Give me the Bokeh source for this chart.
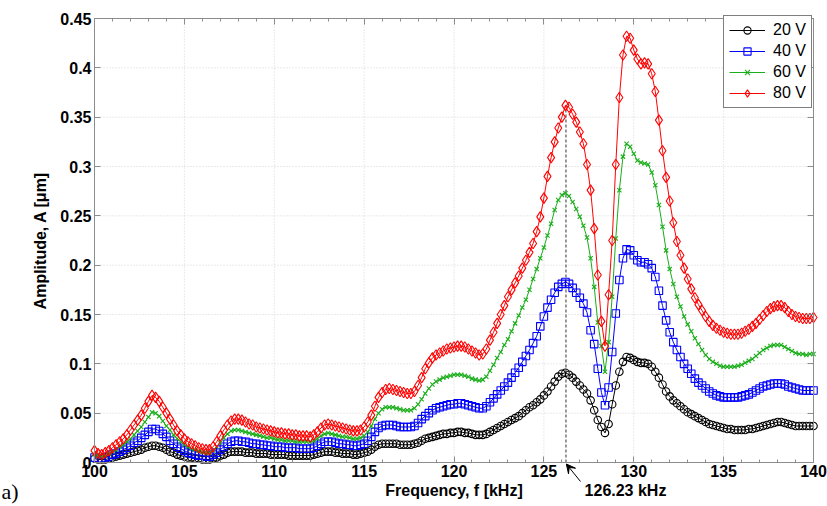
import numpy as np
from bokeh.plotting import figure
from bokeh.models import (FixedTicker, LinearAxis, Legend, LegendItem, Label,
                          Arrow, VeeHead, CustomJSTickFormatter, Range1d)
from bokeh.embed import file_html
from bokeh.resources import INLINE

# ---------------- data ----------------
freq_start, freq_stop, n_points = 100.0, 140.0, 201   # 0.2 kHz sampling grid
freq = np.round(np.linspace(freq_start, freq_stop, n_points), 1)

amp_20V = [
    0.004, 0.003, 0.003, 0.003, 0.004,
    0.005, 0.006, 0.007, 0.008, 0.009,
    0.010, 0.011, 0.012, 0.013, 0.015,
    0.016, 0.017, 0.017, 0.016, 0.015,
    0.013, 0.011, 0.010, 0.008, 0.007,
    0.006, 0.005, 0.005, 0.004, 0.004,
    0.003, 0.003, 0.003, 0.004, 0.005,
    0.007, 0.008, 0.010, 0.011, 0.011,
    0.011, 0.011, 0.010, 0.010, 0.010,
    0.009, 0.009, 0.009, 0.009, 0.008,
    0.008, 0.008, 0.008, 0.008, 0.007,
    0.007, 0.007, 0.007, 0.007, 0.007,
    0.007, 0.008, 0.009, 0.010, 0.011,
    0.011, 0.011, 0.010, 0.010, 0.009,
    0.009, 0.009, 0.008, 0.008, 0.009,
    0.010, 0.011, 0.013, 0.016, 0.018,
    0.019, 0.019, 0.019, 0.019, 0.019,
    0.018, 0.018, 0.018, 0.018, 0.019,
    0.020, 0.022, 0.024, 0.025, 0.026,
    0.027, 0.028, 0.029, 0.029, 0.030,
    0.030, 0.031, 0.031, 0.030, 0.030,
    0.029, 0.028, 0.028, 0.028, 0.029,
    0.031, 0.033, 0.035, 0.037, 0.039,
    0.041, 0.043, 0.045, 0.047, 0.050,
    0.053, 0.056, 0.058, 0.061, 0.064,
    0.068, 0.072, 0.077, 0.082, 0.087,
    0.090, 0.091, 0.089, 0.086, 0.082,
    0.078, 0.074, 0.070, 0.063, 0.053,
    0.043, 0.036, 0.030, 0.039, 0.059,
    0.078, 0.092, 0.102, 0.107, 0.106,
    0.104, 0.102, 0.101, 0.101, 0.100,
    0.097, 0.092, 0.086, 0.079, 0.072,
    0.067, 0.063, 0.060, 0.057, 0.054,
    0.051, 0.049, 0.047, 0.045, 0.043,
    0.041, 0.039, 0.038, 0.037, 0.036,
    0.035, 0.034, 0.034, 0.033, 0.033,
    0.033, 0.033, 0.034, 0.034, 0.035,
    0.036, 0.037, 0.038, 0.039, 0.040,
    0.041, 0.041, 0.040, 0.039, 0.038,
    0.037, 0.037, 0.037, 0.037, 0.037,
    0.037,
]

amp_40V = [
    0.005, 0.004, 0.004, 0.005, 0.006,
    0.008, 0.009, 0.011, 0.013, 0.015,
    0.017, 0.020, 0.022, 0.025, 0.028,
    0.031, 0.034, 0.034, 0.032, 0.029,
    0.026, 0.022, 0.019, 0.016, 0.014,
    0.012, 0.010, 0.009, 0.008, 0.007,
    0.007, 0.006, 0.006, 0.008, 0.010,
    0.013, 0.016, 0.019, 0.021, 0.022,
    0.022, 0.021, 0.021, 0.020, 0.019,
    0.019, 0.018, 0.018, 0.017, 0.017,
    0.016, 0.016, 0.016, 0.015, 0.015,
    0.015, 0.015, 0.014, 0.014, 0.014,
    0.014, 0.015, 0.017, 0.019, 0.021,
    0.021, 0.021, 0.020, 0.019, 0.019,
    0.018, 0.018, 0.017, 0.017, 0.018,
    0.019, 0.022, 0.026, 0.031, 0.035,
    0.037, 0.038, 0.038, 0.038, 0.037,
    0.036, 0.036, 0.036, 0.036, 0.037,
    0.040, 0.044, 0.047, 0.050, 0.053,
    0.055, 0.056, 0.057, 0.058, 0.059,
    0.059, 0.060, 0.060, 0.059, 0.058,
    0.057, 0.056, 0.055, 0.055, 0.057,
    0.061, 0.065, 0.069, 0.073, 0.077,
    0.081, 0.086, 0.091, 0.096, 0.102,
    0.108, 0.114, 0.121, 0.128, 0.138,
    0.148, 0.157, 0.165, 0.172, 0.178,
    0.181, 0.183, 0.181, 0.177, 0.172,
    0.167, 0.161, 0.152, 0.134, 0.120,
    0.095, 0.071, 0.058, 0.076, 0.112,
    0.151, 0.185, 0.207, 0.216, 0.215,
    0.210, 0.205, 0.203, 0.203, 0.201,
    0.197, 0.188, 0.174, 0.159, 0.144,
    0.132, 0.122, 0.114, 0.107, 0.100,
    0.095, 0.090, 0.085, 0.081, 0.078,
    0.075, 0.072, 0.070, 0.068, 0.067,
    0.066, 0.066, 0.066, 0.066, 0.066,
    0.067, 0.068, 0.069, 0.071, 0.073,
    0.075, 0.077, 0.078, 0.079, 0.080,
    0.080, 0.080, 0.079, 0.077, 0.076,
    0.075, 0.074, 0.073, 0.073, 0.073,
    0.073,
]

amp_60V = [
    0.008, 0.007, 0.006, 0.007, 0.009,
    0.011, 0.013, 0.016, 0.018, 0.021,
    0.024, 0.028, 0.032, 0.036, 0.041,
    0.046, 0.051, 0.050, 0.047, 0.042,
    0.037, 0.033, 0.028, 0.024, 0.021,
    0.018, 0.016, 0.014, 0.013, 0.012,
    0.011, 0.010, 0.010, 0.012, 0.016,
    0.020, 0.025, 0.029, 0.032, 0.033,
    0.033, 0.032, 0.031, 0.030, 0.029,
    0.028, 0.027, 0.026, 0.025, 0.025,
    0.024, 0.023, 0.023, 0.022, 0.022,
    0.022, 0.021, 0.021, 0.021, 0.021,
    0.021, 0.022, 0.024, 0.027, 0.029,
    0.030, 0.029, 0.028, 0.027, 0.026,
    0.026, 0.025, 0.024, 0.024, 0.025,
    0.027, 0.031, 0.037, 0.044, 0.050,
    0.054, 0.056, 0.056, 0.056, 0.055,
    0.054, 0.053, 0.053, 0.053, 0.055,
    0.059, 0.064, 0.070, 0.075, 0.079,
    0.082, 0.084, 0.086, 0.087, 0.088,
    0.089, 0.089, 0.089, 0.088, 0.087,
    0.085, 0.084, 0.083, 0.084, 0.087,
    0.093, 0.099, 0.106, 0.112, 0.119,
    0.125, 0.133, 0.141, 0.149, 0.157,
    0.165, 0.175, 0.186, 0.196, 0.207,
    0.218, 0.230, 0.242, 0.256, 0.266,
    0.271, 0.273, 0.270, 0.264, 0.257,
    0.249, 0.240, 0.228, 0.207, 0.178,
    0.142, 0.118, 0.092, 0.122, 0.168,
    0.227, 0.276, 0.310, 0.323, 0.320,
    0.313, 0.306, 0.304, 0.303, 0.302,
    0.294, 0.281, 0.261, 0.239, 0.215,
    0.196, 0.181, 0.168, 0.158, 0.148,
    0.140, 0.133, 0.126, 0.120, 0.114,
    0.109, 0.105, 0.102, 0.100, 0.098,
    0.097, 0.097, 0.097, 0.097, 0.098,
    0.099, 0.101, 0.103, 0.105, 0.108,
    0.111, 0.114, 0.116, 0.118, 0.119,
    0.119, 0.119, 0.117, 0.115, 0.113,
    0.111, 0.110, 0.110, 0.109, 0.110,
    0.110,
]

amp_80V = [
    0.012, 0.009, 0.008, 0.010, 0.012,
    0.015, 0.018, 0.021, 0.024, 0.028,
    0.033, 0.038, 0.043, 0.048, 0.055,
    0.062, 0.068, 0.066, 0.062, 0.056,
    0.050, 0.044, 0.038, 0.032, 0.028,
    0.024, 0.021, 0.019, 0.017, 0.015,
    0.014, 0.013, 0.013, 0.016, 0.021,
    0.027, 0.033, 0.038, 0.042, 0.044,
    0.044, 0.043, 0.041, 0.039, 0.038,
    0.036, 0.035, 0.034, 0.033, 0.032,
    0.031, 0.030, 0.030, 0.029, 0.029,
    0.028, 0.028, 0.027, 0.027, 0.027,
    0.026, 0.028, 0.031, 0.035, 0.038,
    0.039, 0.038, 0.037, 0.036, 0.035,
    0.034, 0.033, 0.032, 0.032, 0.033,
    0.036, 0.041, 0.048, 0.057, 0.066,
    0.071, 0.074, 0.075, 0.074, 0.073,
    0.072, 0.071, 0.070, 0.070, 0.072,
    0.078, 0.086, 0.095, 0.101, 0.106,
    0.109, 0.111, 0.113, 0.115, 0.116,
    0.117, 0.118, 0.118, 0.117, 0.115,
    0.113, 0.111, 0.109, 0.110, 0.115,
    0.124, 0.132, 0.141, 0.150, 0.159,
    0.168, 0.175, 0.182, 0.189, 0.197,
    0.205, 0.213, 0.222, 0.234, 0.249,
    0.268, 0.290, 0.309, 0.325, 0.339,
    0.350, 0.362, 0.360, 0.353, 0.345,
    0.335, 0.323, 0.302, 0.276, 0.237,
    0.190, 0.143, 0.118, 0.170, 0.225,
    0.302, 0.370, 0.413, 0.432, 0.430,
    0.418, 0.409, 0.404, 0.405, 0.404,
    0.394, 0.376, 0.347, 0.316, 0.289,
    0.265, 0.243, 0.224, 0.210, 0.197,
    0.186, 0.176, 0.167, 0.160, 0.154,
    0.148, 0.143, 0.139, 0.136, 0.134,
    0.132, 0.131, 0.130, 0.130, 0.130,
    0.131, 0.133, 0.135, 0.138, 0.141,
    0.145, 0.149, 0.153, 0.156, 0.158,
    0.159, 0.159, 0.157, 0.153, 0.150,
    0.148, 0.147, 0.146, 0.146, 0.146,
    0.147,
]

series_labels = ["20 V", "40 V", "60 V", "80 V"]
series_values = [amp_20V, amp_40V, amp_60V, amp_80V]

x_min, x_max = 100, 140
y_min, y_max = 0, 0.45
x_ticks = [100, 105, 110, 115, 120, 125, 130, 135, 140]
x_minor_ticks = list(range(100, 141))
y_ticks = [0, 0.05, 0.1, 0.15, 0.2, 0.25, 0.3, 0.35, 0.4, 0.45]
y_tick_labels = ["0", "0.05", "0.1", "0.15", "0.2", "0.25", "0.3", "0.35", "0.4", "0.45"]

peak_freq = 126.23      # marked resonance [kHz]
peak_amp_80V = 0.362    # top of the marker line

# ---------------- layout (pixels) ----------------
W, H = 827, 506
box_left, box_right, box_top, box_bottom = 94, 813, 18, 462
kx = (box_right - box_left) / (x_max - x_min)      # px per kHz
ky = (box_bottom - box_top) / (y_max - y_min)      # px per um

def px_to_x(px):
    return x_min + (px - box_left) / kx

def py_to_y(py):
    return y_min + (box_bottom - py) / ky

# ---------------- style ----------------
colors = ["#000000", "#0000ff", "#1aae1a", "#ff0000"]
markers = ["circle", "square", "x", "diamond"]
marker_sizes = [7.5, 7.5, 6, 10.5]
FONT = "Liberation Sans"
AX_GRAY = "#8c8c8c"

for s in series_values:
    assert len(s) == len(freq)

p = figure(width=W, height=H,
           x_range=Range1d(px_to_x(0), px_to_x(W)),
           y_range=Range1d(py_to_y(H), py_to_y(0)),
           x_axis_type=None, y_axis_type=None,
           output_backend="svg", toolbar_location=None, min_border=0)
p.background_fill_color = "white"
p.border_fill_color = "white"
p.outline_line_color = None

yfmt = CustomJSTickFormatter(args=dict(tvals=y_ticks, tlabels=y_tick_labels), code="""
    for (let i = 0; i < tvals.length; i++) {
        if (Math.abs(tvals[i] - tick) < 1e-9) { return tlabels[i]; }
    }
    return "";
""")

def style_axis(ax):
    ax.axis_line_color = AX_GRAY
    ax.major_tick_line_color = AX_GRAY
    ax.minor_tick_line_color = AX_GRAY
    ax.major_tick_in = 6
    ax.major_tick_out = 0
    ax.minor_tick_in = 3
    ax.minor_tick_out = 0
    ax.major_label_text_font = FONT
    ax.major_label_text_font_style = "bold"
    ax.major_label_text_font_size = "16px"
    ax.major_label_text_color = "black"
    ax.axis_label_text_font = FONT
    ax.axis_label_text_font_style = "bold"
    ax.axis_label_text_font_size = "16px"
    ax.axis_label_text_color = "black"

# grid (dotted) at the major ticks, inside the box only
p.segment(x0=x_ticks, y0=[y_min] * len(x_ticks), x1=x_ticks, y1=[y_max] * len(x_ticks),
          line_color="#d4d4d4", line_dash="1 2", line_width=1)
p.segment(x0=[x_min] * len(y_ticks), y0=y_ticks, x1=[x_max] * len(y_ticks), y1=y_ticks,
          line_color="#d4d4d4", line_dash="1 2", line_width=1)

# axes placed on the box
xa = LinearAxis(fixed_location=y_min, bounds=(x_min, x_max),
                ticker=FixedTicker(ticks=x_ticks, minor_ticks=x_minor_ticks),
                axis_label="Frequency, f [kHz]")
style_axis(xa)
xa.major_label_standoff = 2
xa.axis_label_standoff = 2
p.add_layout(xa, "below")

ya = LinearAxis(fixed_location=x_min, bounds=(y_min, y_max),
                ticker=FixedTicker(ticks=y_ticks, minor_ticks=[]), formatter=yfmt,
                axis_label="Amplitude, A [μm]")
style_axis(ya)
ya.major_label_standoff = 3
ya.axis_label_standoff = 8
p.add_layout(ya, "left")

top_ax = LinearAxis(fixed_location=y_max, bounds=(x_min, x_max),
                    ticker=FixedTicker(ticks=x_ticks, minor_ticks=x_minor_ticks))
right_ax = LinearAxis(fixed_location=x_max, bounds=(y_min, y_max),
                      ticker=FixedTicker(ticks=y_ticks, minor_ticks=[]))
for ax in (top_ax, right_ax):
    style_axis(ax)
    ax.major_label_text_font_size = "0px"
    ax.major_label_text_alpha = 0
    ax.major_label_standoff = 0
p.add_layout(top_ax, "above")
p.add_layout(right_ax, "right")

# marker line at the resonance
p.segment(x0=[peak_freq], y0=[y_min], x1=[peak_freq], y1=[peak_amp_80V],
          line_color="#333333", line_dash="3 2", line_width=1)

items = []
for lbl, vals, c, m, sz in zip(series_labels, series_values, colors, markers, marker_sizes):
    ln = p.line(freq, vals, line_color=c, line_width=1)
    sc = p.scatter(freq, vals, marker=m, size=sz, line_color=c,
                   fill_alpha=0, line_width=1.1)
    items.append(LegendItem(label=lbl, renderers=[ln, sc]))

legend = Legend(items=items, location=(723, H - 108), margin=0,
                border_line_color="black", border_line_width=1,
                background_fill_color="white", background_fill_alpha=1,
                label_text_font=FONT, label_text_font_size="16px",
                label_text_color="black",
                glyph_width=36, glyph_height=18, spacing=3, padding=5,
                label_standoff=8)
p.add_layout(legend)

# annotation below the axis
p.add_layout(Arrow(end=VeeHead(size=9, line_color="black", fill_color="black", line_width=1),
                   x_start=px_to_x(580), y_start=py_to_y(481),
                   x_end=peak_freq + 0.02, y_end=py_to_y(463.5),
                   line_color="black", line_width=1))
p.add_layout(Label(x=px_to_x(625), y=py_to_y(490), text=f"{peak_freq:.2f} kHz",
                   text_align="center", text_baseline="middle", text_color="black",
                   text_font=FONT, text_font_style="bold", text_font_size="16px"))
p.add_layout(Label(x=px_to_x(1), y=py_to_y(491), text="a)", text_align="left",
                   text_baseline="middle", text_color="black",
                   text_font="Liberation Serif", text_font_size="22px"))

open("out.html", "w").write(file_html(p, INLINE))
